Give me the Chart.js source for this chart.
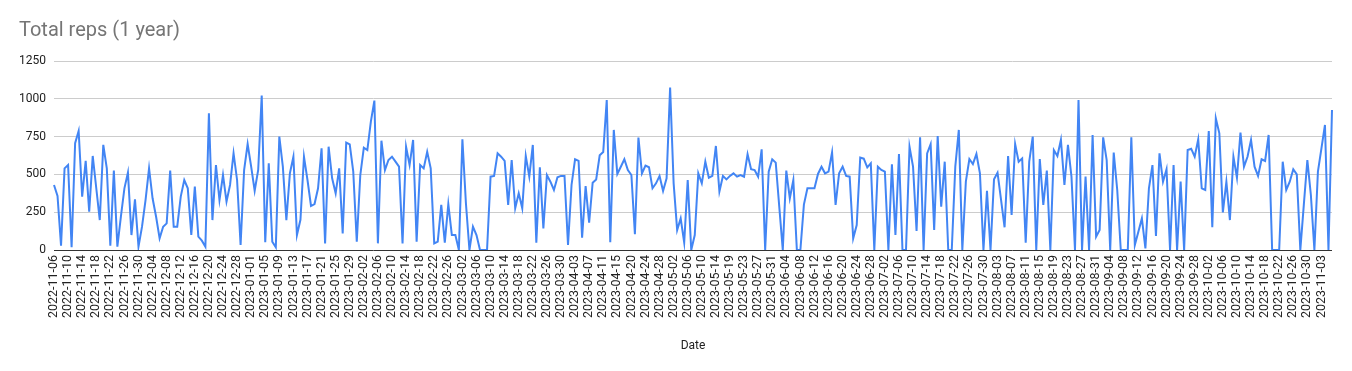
<!DOCTYPE html>
<html>
<head>
<meta charset="utf-8">
<title>Total reps (1 year)</title>
<script src="https://cdn.jsdelivr.net/npm/chart.js@4"></script>
<style>
  html, body { margin: 0; padding: 0; background: #ffffff; }
</style>
</head>
<body>
<canvas id="myChart" width="1352" height="371"></canvas>
<script>
// DATA
const startDate = "2022-11-06";
// days with no row in the sheet
const missingDates = ["2023-04-17", "2023-05-16"];
const yTicks = [0, 250, 500, 750, 1000, 1250];
// one value per row
const reps = [
  430, 357, 29, 540, 562, 18, 706, 787, 353, 589,
  254, 622, 410, 198, 695, 540, 29, 525, 22, 220,
  408, 512, 99, 335, 22, 154, 330, 540, 342, 220,
  77, 154, 176, 525, 154, 154, 353, 463, 408, 99,
  419, 88, 62, 22, 904, 198, 562, 330, 496, 320,
  430, 640, 463, 33, 529, 701, 551, 392, 529, 1021,
  51, 573, 55, 18, 750, 551, 198, 507, 617, 99,
  200, 617, 463, 291, 304, 408, 672, 44, 683, 474,
  375, 540, 110, 710, 699, 518, 55, 496, 677, 661,
  849, 988, 44, 723, 529, 595, 617, 584, 551, 44,
  683, 562, 728, 55, 562, 540, 650, 540, 44,
  55, 298, 49, 304, 99, 99, 0, 732, 309, 0,
  154, 99, 0, 0, 0, 485, 490, 640, 617, 589,
  298, 595, 276, 375, 276, 622, 485, 695, 49, 547,
  143, 496, 452, 397, 481, 490, 490, 33, 430, 600,
  589, 82, 423, 181, 445, 467, 626, 648, 992, 51,
  794, 503, 551, 600, 529, 496, 104, 743, 507, 558,
  547, 408, 441, 490, 390, 474, 1074, 441, 132, 209,
  49, 463, 0, 99, 507, 441, 584, 478, 490, 688,
  386, 490, 467, 490, 507, 485, 496, 485, 633, 534,
  529, 485, 666, 0, 518, 600, 578, 287, 0, 525,
  342, 463, 0, 0, 300, 408, 408, 408, 503, 551,
  507, 518, 646, 298, 507, 551, 490, 485, 77, 165,
  611, 604, 547, 573, 0, 551, 529, 518, 0, 567,
  99, 635, 0, 0, 683, 551, 126, 745, 0, 639,
  700, 132, 754, 287, 584, 0, 0, 551, 794, 0,
  452, 602, 569, 635, 507, 0, 392, 0, 467, 511,
  331, 150, 622, 232, 701, 584, 606, 49, 584, 750,
  0, 602, 298, 525, 0, 661, 622, 728, 430, 695,
  485, 0, 992, 0, 485, 0, 761, 88, 132,
  745, 595, 0, 644, 397, 0, 0, 0, 745, 33,
  121, 209, 11, 408, 562, 93, 639, 452, 534, 0,
  562, 0, 452, 0, 661, 670, 617, 732, 408, 397,
  787, 150, 871, 772, 249, 452, 198, 617, 478, 776,
  551, 617, 728, 551, 490, 600, 589, 761, 0, 0,
  0, 584, 397, 452, 534, 500, 0, 300, 595, 364,
  0, 518, 672, 827, 0, 926,
];

// one date label per row
const dates = [];
const day0 = new Date(startDate + "T00:00:00Z");
for (let k = 0; dates.length < reps.length; k++) {
  const s = new Date(day0.getTime() + k * 86400000).toISOString().slice(0, 10);
  if (!missingDates.includes(s)) dates.push(s);
}

const font = "Roboto";

//Config part
const config = {
  type: "line",
  data: {
    labels: dates,
    datasets: [
      {
        label: "Total reps",
        data: reps,
        borderColor: "#4285f4",
        borderWidth: 2,
        pointRadius: 0,
        tension: 0,
        fill: false,
      },
    ],
  },
  options: {
    responsive: false,
    animation: false,
    layout: {
      padding: { left: 19, right: 20, top: 0, bottom: 0 },
    },
    plugins: {
      legend: { display: false },
      tooltip: { enabled: false },
      title: {
        display: true,
        text: "Total reps (1 year)",
        align: "start",
        color: "#757575",
        font: { family: font, size: 20, weight: "normal" },
        padding: { top: 19, bottom: 18 },
      },
    },
    scales: {
      x: {
        grid: { display: false, drawTicks: false },
        border: { display: false },
        ticks: {
          autoSkip: false,
          minRotation: 90,
          maxRotation: 90,
          padding: 5,
          color: "#222222",
          font: { family: font, size: 12.5 },
          callback: (v, i) => (i % 4 === 0 ? dates[i] : ""),
        },
        title: {
          display: true,
          text: "Date",
          color: "#222222",
          font: { family: font, size: 12 },
          padding: { top: 0, bottom: 18 },
        },
        afterFit(scale) {
          scale.height = 121;
        },
      },
      y: {
        min: yTicks[0],
        max: yTicks[yTicks.length - 1],
        border: { display: false },
        grid: {
          drawTicks: false,
          color: (ctx) => (ctx.tick && ctx.tick.value === 0 ? "#333333" : "#cccccc"),
        },
        ticks: {
          stepSize: yTicks[1] - yTicks[0],
          padding: 8,
          color: "#222222",
          font: { family: font, size: 12 },
          callback: (v) => String(v),
        },
        afterFit(scale) {
          scale.width = 35;
        },
      },
    },
  },
};

const myChart = new Chart(document.getElementById("myChart"), config);
</script>
</body>
</html>
